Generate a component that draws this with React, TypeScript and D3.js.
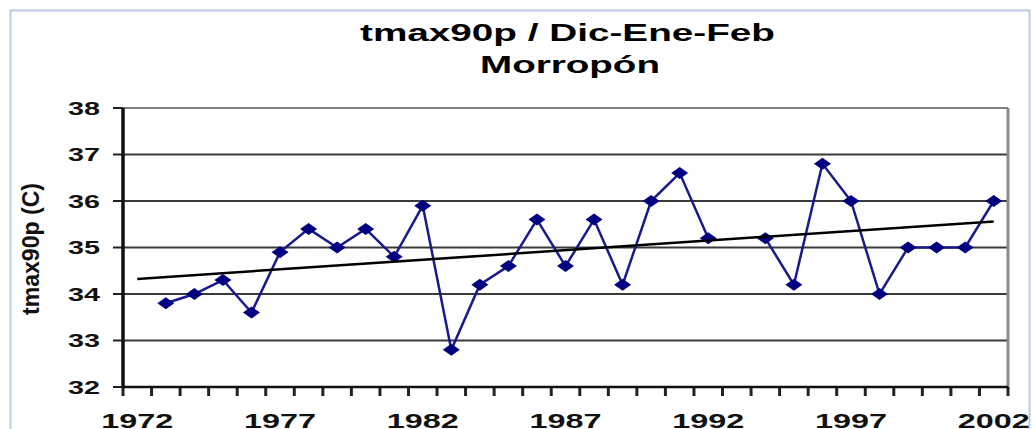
import React from "react";
import * as d3 from "d3";

const years: number[] = d3.range(1972, 2003);
const tmax90p: (number | null)[] = [
  null, 33.8, 34.0, 34.3, 33.6, 34.9, 35.4, 35.0, 35.4, 34.8,
  35.9, 32.8, 34.2, 34.6, 35.6, 34.6, 35.6, 34.2, 36.0, 36.6,
  35.2, null, 35.2, 34.2, 36.8, 36.0, 34.0, 35.0, 35.0, 35.0,
  36.0,
];
const xTickLabels: number[] = [1972, 1977, 1982, 1987, 1992, 1997, 2002];
const yTicks: number[] = [32, 33, 34, 35, 36, 37, 38];
const titleLines: string[] = ["tmax90p / Dic-Ene-Feb", "Morropón"];
const yAxisTitle = "tmax90p (C)";

const W = 1033;
const H = 429;
const FONT = "'Liberation Sans', Arial, Helvetica, sans-serif";

export default function App() {
  const x = d3.scaleBand<number>().domain(years).range([123, 1008]).padding(0);
  const bw = x.bandwidth();
  const cx = (yr: number) => (x(yr) as number) + bw / 2;
  const y = d3.scaleLinear().domain([32, 38]).range([387, 108]);

  const pts = years
    .map((yr, i) => ({ yr, v: tmax90p[i] }))
    .filter((d) => d.v !== null) as { yr: number; v: number }[];

  // least-squares trend line
  const mx = d3.mean(pts, (d) => d.yr) as number;
  const my = d3.mean(pts, (d) => d.v) as number;
  const sxy = d3.sum(pts, (d) => (d.yr - mx) * (d.v - my));
  const sxx = d3.sum(pts, (d) => (d.yr - mx) * (d.yr - mx));
  const slope = sxy / sxx;
  const icpt = my - slope * mx;
  const trend = [years[0], years[years.length - 1]].map((yr) => ({ yr, v: icpt + slope * yr }));

  const line = d3
    .line<{ yr: number; v: number | null }>()
    .defined((d) => d.v !== null)
    .x((d) => cx(d.yr))
    .y((d) => y(d.v as number));
  const series = years.map((yr, i) => ({ yr, v: tmax90p[i] }));

  const trendLine = d3
    .line<{ yr: number; v: number }>()
    .x((d) => cx(d.yr))
    .y((d) => y(d.v));

  const boundaries = years.map((yr) => x(yr) as number).concat([x.range()[1]]);

  return (
    <svg
      width={W}
      height={H}
      style={{ position: "absolute", left: 0, top: 0, background: "#fff" }}
      fontFamily={FONT}
    >
      <rect x={0} y={0} width={W} height={H} fill="#fff" />
      {/* outer frame */}
      <rect x={10.5} y={10.5} width={1019} height={440} fill="none" stroke="#b9cde5" strokeWidth={2} />

      {/* title */}
      <text x={567.5} y={40.5} textAnchor="middle" fontSize={24} fontWeight="bold" textLength={415} lengthAdjust="spacingAndGlyphs" fill="#000">
        {titleLines[0]}
      </text>
      <text x={570} y={73.3} textAnchor="middle" fontSize={24} fontWeight="bold" textLength={180} lengthAdjust="spacingAndGlyphs" fill="#000">
        {titleLines[1]}
      </text>

      {/* gridlines */}
      {yTicks.slice(1, -1).map((t) => (
        <line key={t} x1={123} x2={1008} y1={y(t)} y2={y(t)} stroke="#3a3a3a" strokeWidth={2} />
      ))}
      {/* plot border top/right */}
      <line x1={123} x2={1008} y1={y(38)} y2={y(38)} stroke="#7f7f7f" strokeWidth={2} />
      <line x1={1008} x2={1008} y1={y(38)} y2={y(32)} stroke="#8a8a8a" strokeWidth={3} />

      {/* y ticks */}
      {yTicks.map((t) => (
        <line key={"yt" + t} x1={113} x2={123} y1={y(t)} y2={y(t)} stroke="#222" strokeWidth={2} />
      ))}
      {/* x ticks */}
      {boundaries.map((b, i) => (
        <line key={"xt" + i} x1={b} x2={b} y1={387} y2={396} stroke="#222" strokeWidth={3} />
      ))}
      {/* axes */}
      <line x1={123} x2={1008} y1={387} y2={387} stroke="#111" strokeWidth={2.5} />
      <line x1={123} x2={123} y1={108} y2={388} stroke="#111" strokeWidth={3.5} />

      {/* y tick labels */}
      {yTicks.map((t) => (
        <text key={"yl" + t} x={100} y={y(t) + 6.5} textAnchor="end" fontSize={18} fontWeight="bold" textLength={32} lengthAdjust="spacingAndGlyphs" fill="#111">
          {t}
        </text>
      ))}
      {/* x tick labels */}
      {xTickLabels.map((t) => (
        <text key={"xl" + t} x={cx(t)} y={428} textAnchor="middle" fontSize={20} fontWeight="bold" textLength={72} lengthAdjust="spacingAndGlyphs" fill="#111">
          {t}
        </text>
      ))}

      {/* y axis title */}
      <text
        transform={`translate(39,249) scale(1.6,1) rotate(-90)`}
        textAnchor="middle"
        fontSize={15}
        fontWeight="bold"
        textLength={132}
        lengthAdjust="spacingAndGlyphs"
        fill="#111"
      >
        {yAxisTitle}
      </text>

      {/* series */}
      <path d={line(series) || ""} fill="none" stroke="#1a1a8c" strokeWidth={2.5} />
      {pts.map((d) => (
        <path
          key={"m" + d.yr}
          d={`M${cx(d.yr) - 8.5},${y(d.v)}L${cx(d.yr)},${y(d.v) - 6}L${cx(d.yr) + 8.5},${y(d.v)}L${cx(d.yr)},${y(d.v) + 6}Z`}
          fill="#000080"
        />
      ))}

      {/* trend line */}
      <path d={trendLine(trend) || ""} fill="none" stroke="#000" strokeWidth={2.5} />
    </svg>
  );
}
